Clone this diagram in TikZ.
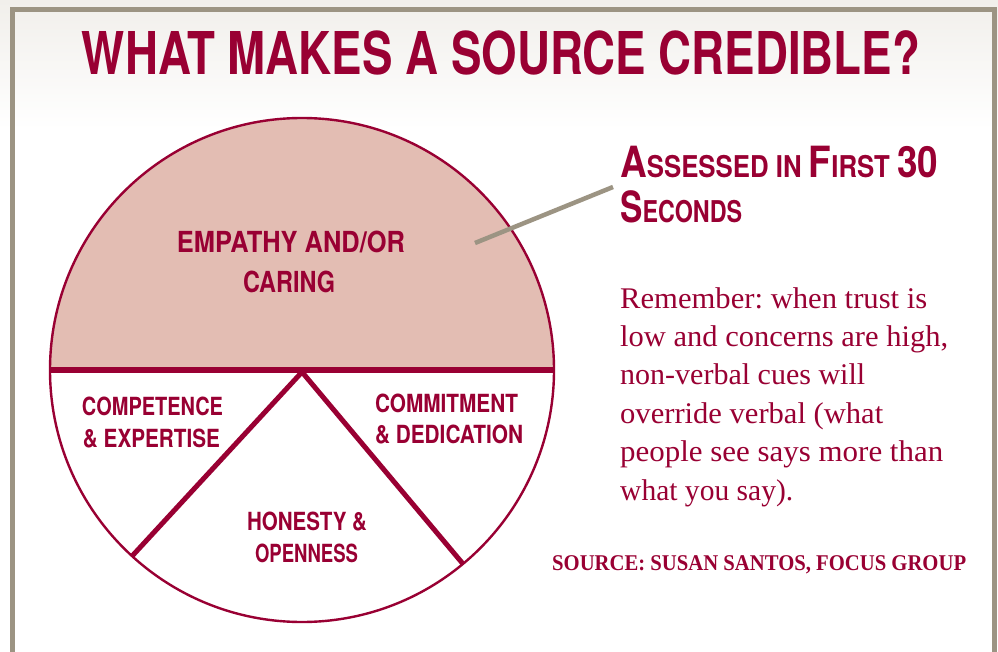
\documentclass[tikz,border=0pt]{standalone}
\usepackage{fontspec}
\usepackage{graphicx}
\setmainfont{Liberation Serif}
\newfontfamily\headsans{TeX Gyre Heros}
\usetikzlibrary{calc}
\frenchspacing

\definecolor{crimson}{HTML}{990033}
\definecolor{blush}{HTML}{E3BDB3}
\definecolor{taupe}{HTML}{9C9483}
\definecolor{haze}{HTML}{F1EFEB}

% stretch or squeeze a line of text to a given width, keeping its height
\newcommand{\fitw}[2]{\resizebox{#1pt}{\height}{#2}}
\newcommand{\capL}{\fontsize{43}{43}\selectfont}
\newcommand{\capS}{\fontsize{30}{30}\selectfont}

\tikzset{
  headtxt/.style={text=crimson, inner sep=0pt, font=\headsans\bfseries},
  bigpielabel/.style={text=crimson, inner sep=0pt, anchor=base,
                      font=\headsans\bfseries\fontsize{29}{29}\selectfont},
  pielabel/.style={text=crimson, inner sep=0pt, anchor=base,
                   font=\headsans\bfseries\fontsize{25}{25}\selectfont},
  bodyline/.style={text=crimson, inner sep=0pt, anchor=base west,
                   font=\fontsize{30}{30}\selectfont},
  rim/.style={draw=crimson, line width=2.4pt},
  divider/.style={draw=crimson, line width=5.5pt},
}

\begin{document}
\begin{tikzpicture}[x=1pt,y=-1pt]
\useasboundingbox (0,0) rectangle (998,652);

% soft header backdrop
\fill[white] (0,0) rectangle (998,652);
\shade[top color=haze, bottom color=white] (0,0) rectangle (998,130);

% frame, open at the bottom
\coordinate (frameBL) at (12.5,660);
\coordinate (frameTL) at (12.5,9.25);
\coordinate (frameTR) at (994.5,9.25);
\coordinate (frameBR) at (994.5,660);
\draw[taupe, line width=5pt, line join=miter] (frameBL) -- (frameTL) -- (frameTR) -- (frameBR);

% title
\node[headtxt, anchor=base] (title) at (501,75)
  {\fontsize{59}{59}\selectfont\fitw{838}{WHAT MAKES A SOURCE CREDIBLE?}};

% pie chart
\coordinate (O) at (302,370);
\coordinate (pieW) at ($(O)+(180:252)$);
\coordinate (pieE) at ($(O)+(0:252)$);
\coordinate (apex) at (302,372);
\coordinate (footL) at ($(O)+(132.4:252)$);
\coordinate (footR) at ($(O)+(50.3:252)$);

\fill[blush] (pieW) arc[start angle=180, end angle=360, radius=252] -- cycle;
\draw[rim] (O) circle[radius=252];
\draw[divider] (pieW) -- (pieE);
\draw[draw=crimson, line width=5pt, line join=miter] (footL) -- (apex) -- (footR);

% segment labels
\node[bigpielabel] (emp1) at (291,253) {\fitw{228}{EMPATHY AND/OR}};
\node[bigpielabel] (emp2) at (289,292) {\fitw{92}{CARING}};
\node[pielabel] (comp1) at (152.5,415) {\fitw{141}{COMPETENCE}};
\node[pielabel] (comp2) at (151.5,447) {\fitw{137}{\& EXPERTISE}};
\node[pielabel] (comm1) at (446.5,412) {\fitw{143}{COMMITMENT}};
\node[pielabel] (comm2) at (449,443) {\fitw{148}{\& DEDICATION}};
\node[pielabel] (hon1) at (307,530) {\fitw{120}{HONESTY \&}};
\node[pielabel] (hon2) at (306.5,562) {\fitw{103}{OPENNESS}};

% callout heading
\node[headtxt, anchor=base west] (assess1) at (620,178)
  {\fitw{318}{\capL A\capS SSESSED IN \capL F\capS IRST \capL 30}};
\node[headtxt, anchor=base west] (assess2) at (620,223)
  {\fitw{122}{\capL S\capS ECONDS}};

% pointer from the top segment to the heading
\coordinate (ptrIn) at (475,243);
\coordinate (ptrOut) at (613,187);
\draw[taupe, line width=4.5pt] (ptrIn) -- (ptrOut);

% note
\node[bodyline] (note1) at (620,308) {\fitw{307}{Remember: when trust is}};
\node[bodyline] (note2) at (620,346.4) {\fitw{328}{low and concerns are high,}};
\node[bodyline] (note3) at (620,384.8) {\fitw{245}{non-verbal cues will}};
\node[bodyline] (note4) at (620,423.2) {\fitw{263}{override verbal (what}};
\node[bodyline] (note5) at (620,461.6) {\fitw{323}{people see says more than}};
\node[bodyline] (note6) at (620,500) {\fitw{173}{what you say).}};

% source credit
\node[text=crimson, inner sep=0pt, anchor=base west,
      font=\bfseries\fontsize{22.5}{22.5}\selectfont] (credit) at (552,570)
  {\fitw{414}{SOURCE: SUSAN SANTOS, FOCUS GROUP}};
\end{tikzpicture}
\end{document}
